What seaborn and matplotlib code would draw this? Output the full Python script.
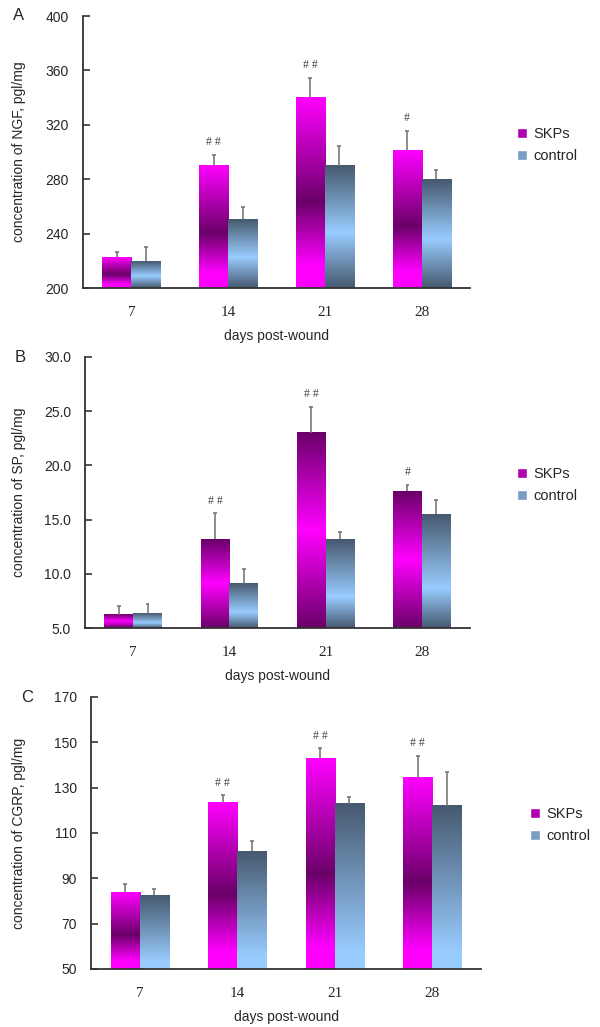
import matplotlib

matplotlib.use("Agg")
import matplotlib.pyplot as plt
import numpy as np
import pandas as pd
import seaborn as sns
from matplotlib.colors import LinearSegmentedColormap
from matplotlib.patches import Patch

days = ["7", "14", "21", "28"]
groups = ["SKPs", "control"]

# panel A: NGF
ngf_skps = [222.6, 290.0, 340.0, 301.2]
ngf_skps_err = [4.2, 8.0, 14.5, 14.5]
ngf_ctrl = [219.7, 250.4, 290.0, 279.9]
ngf_ctrl_err = [10.8, 9.1, 14.7, 6.6]
ngf_marks = ["", "# #", "# #", "#"]

# panel B: SP
sp_skps = [6.2, 13.2, 23.0, 17.6]
sp_skps_err = [0.8, 2.4, 2.4, 0.6]
sp_ctrl = [6.3, 9.1, 13.2, 15.5]
sp_ctrl_err = [0.9, 1.3, 0.7, 1.3]
sp_marks = ["", "# #", "# #", "#"]

# panel C: CGRP
cgrp_skps = [83.9, 123.6, 142.9, 134.3]
cgrp_skps_err = [3.5, 3.1, 4.5, 9.7]
cgrp_ctrl = [82.6, 101.9, 122.9, 122.0]
cgrp_ctrl_err = [2.8, 4.5, 2.9, 14.7]
cgrp_marks = ["", "# #", "# #", "# #"]

MAG, DPUR = "#ff00ff", "#6a0068"
SLATE, LBLUE = "#46596f", "#99ccff"


def cmap(stops):
    return LinearSegmentedColormap.from_list("g", stops)


# gradients listed bottom -> top of each bar
grad = {
    "A": (cmap([(0, MAG), (0.12, MAG), (0.45, DPUR), (1, MAG)]),
          cmap([(0, SLATE), (0.45, LBLUE), (1, SLATE)])),
    "B": (cmap([(0, DPUR), (0.5, MAG), (1, DPUR)]),
          cmap([(0, SLATE), (0.35, LBLUE), (1, SLATE)])),
    "C": (cmap([(0, MAG), (0.1, MAG), (0.45, DPUR), (1, MAG)]),
          cmap([(0, LBLUE), (0.1, LBLUE), (1, SLATE)])),
}

panels = [
    ("A", "concentration of NGF, pgl/mg", ngf_skps, ngf_skps_err, ngf_ctrl, ngf_ctrl_err, ngf_marks,
     (200, 400), np.arange(200, 401, 40), "{:.0f}", [83, 470, 16, 288], (510, 134)),
    ("B", "concentration of SP, pgl/mg", sp_skps, sp_skps_err, sp_ctrl, sp_ctrl_err, sp_marks,
     (5, 30), np.arange(5, 30.1, 5), "{:.1f}", [85, 470, 357, 628], (510, 474)),
    ("C", "concentration of CGRP, pgl/mg", cgrp_skps, cgrp_skps_err, cgrp_ctrl, cgrp_ctrl_err, cgrp_marks,
     (50, 170), np.arange(50, 171, 20), "{:.0f}", [91, 481, 697, 969], (523, 814)),
]

sns.set_style("white")
plt.rcParams["font.family"] = ["Liberation Sans", "DejaVu Sans"]

W, H = 600, 1027
fig = plt.figure(figsize=(W / 100, H / 100), dpi=100)

for letter, ylabel, skps, skps_err, ctrl, ctrl_err, marks, ylim, yticks, fmt, box, leg in panels:
    left, right, top, bottom = box
    ax = fig.add_axes([left / W, 1 - bottom / H, (right - left) / W, (bottom - top) / H])
    df = pd.DataFrame({
        "day": days * 2,
        "group": [groups[0]] * 4 + [groups[1]] * 4,
        "value": skps + ctrl,
    })
    sns.barplot(data=df, x="day", y="value", hue="group", order=days, hue_order=groups,
                width=0.6, errorbar=None, legend=False, ax=ax, saturation=1)
    ax.set_ylim(*ylim)

    errs = [skps_err, ctrl_err]
    for k, cont in enumerate(ax.containers):
        cm = grad[letter][k]
        for j, bar in enumerate(cont):
            x0, w, h = bar.get_x(), bar.get_width(), bar.get_height()
            ax.imshow(np.linspace(0, 1, 256).reshape(-1, 1), cmap=cm, origin="lower",
                      extent=[x0, x0 + w, ylim[0], h], aspect="auto", zorder=2)
            bar.set_facecolor("none")
            bar.set_edgecolor("none")
            xc = x0 + w / 2
            e = errs[k][j]
            ax.vlines(xc, h, h + e, color="#6e6e6e", lw=1.1, zorder=3)
            ax.hlines(h + e, xc - 0.02, xc + 0.02, color="#6e6e6e", lw=1.1, zorder=3)
            if k == 0 and marks[j]:
                ax.annotate(marks[j], (xc, h + e), xytext=(0, 9), textcoords="offset points",
                            ha="center", va="center", fontsize=8.5, color="#444444",
                            family="Liberation Serif")

    ax.set_xlim(-0.5, 3.5)
    ax.set_ylim(*ylim)
    ax.set_yticks(yticks)
    ax.set_yticklabels([fmt.format(v) for v in yticks], fontsize=10)
    ax.set_xticks(range(4))
    ax.set_xticklabels(days, fontsize=11, family="Liberation Serif")
    ax.set_xticks([0.5, 1.5, 2.5, 3.5], minor=True)
    ax.tick_params(axis="x", which="major", length=0, pad=13)
    ax.tick_params(axis="x", which="minor", direction="in", length=5, width=1.2, color="#333333")
    ax.tick_params(axis="y", direction="in", length=5, width=1.2, color="#333333", pad=10, left=True)
    for s in ["top", "right"]:
        ax.spines[s].set_visible(False)
    for s in ["left", "bottom"]:
        ax.spines[s].set_color("#333333")
        ax.spines[s].set_linewidth(1.3)
    ax.set_xlabel("days post-wound", fontsize=10, labelpad=7)
    ax.set_ylabel(ylabel, fontsize=10)
    ax.yaxis.set_label_coords(-(left - 26) / (right - left), 0.5)
    fig.text(left / W - 70 / W, 1 - top / H, letter, fontsize=12, va="center", ha="left")

    handles = [Patch(facecolor="#b000b0"), Patch(facecolor="#7a9cc2")]
    ax.legend(handles, groups, loc="center left", frameon=False, fontsize=10.5,
              handlelength=0.7, handleheight=0.7, handletextpad=0.4, labelspacing=0.55,
              bbox_to_anchor=(leg[0] / W - 0.01, 1 - (leg[1] + 11) / H),
              bbox_transform=fig.transFigure)

fig.savefig("out.png", dpi=100)
